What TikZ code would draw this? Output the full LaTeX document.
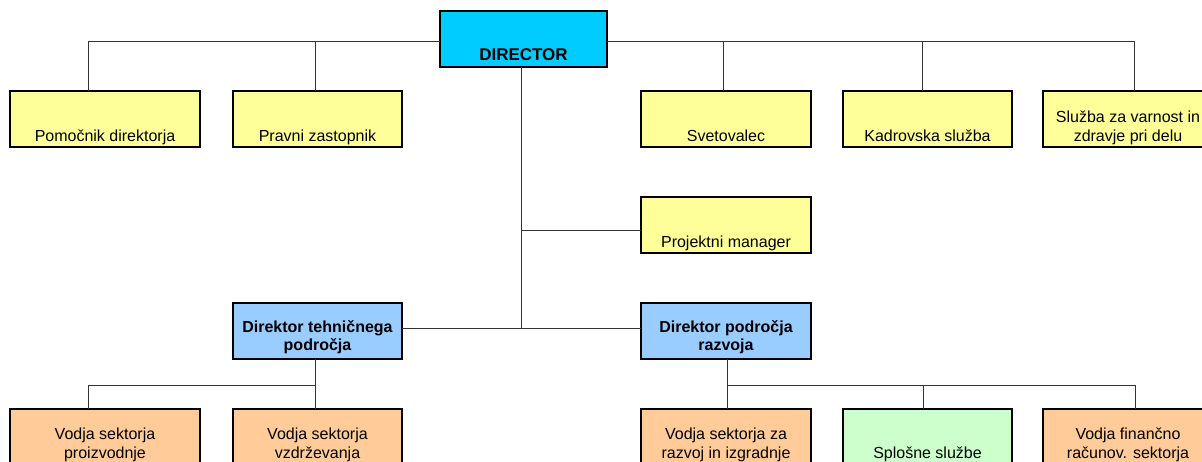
\documentclass[tikz,border=0pt]{standalone}
\usepackage{fontspec}
\setmainfont{Liberation Sans}
\definecolor{dircyan}{HTML}{00CCFF}
\definecolor{boxyellow}{HTML}{FFFF99}
\definecolor{boxblue}{HTML}{99CCFF}
\definecolor{boxorange}{HTML}{FFCC99}
\definecolor{boxgreen}{HTML}{CCFFCC}
\definecolor{linegray}{HTML}{333333}
\tikzset{
  box/.style={draw=black, line width=1.6pt, minimum height=56pt, inner sep=0pt, outer sep=0pt, anchor=north west},
  yel/.style={box, fill=boxyellow},
  blu/.style={box, fill=boxblue},
  ora/.style={box, fill=boxorange},
  gre/.style={box, fill=boxgreen},
  txt/.style={font=\fontsize{16}{19}\selectfont, align=center, inner sep=0pt, text depth=0pt, anchor=south},
  btxt/.style={txt, font=\fontsize{16}{18.5}\selectfont\bfseries},
  conn/.style={draw=linegray, line width=1pt}
}
\begin{document}
\begin{tikzpicture}[x=1pt, y=-1pt]
\useasboundingbox (0,0) rectangle (1202,461);
\clip (0,0) rectangle (1202,461);
% boxes
\node[box, fill=dircyan, minimum width=167pt] (dir) at (440,11) {};
\node[yel, minimum width=190pt] (pom) at (10,91) {};
\node[yel, minimum width=169pt] (prav) at (233,91) {};
\node[yel, minimum width=170pt] (svet) at (641,91) {};
\node[yel, minimum width=169pt] (kadr) at (843,91) {};
\node[yel, minimum width=170pt] (sluz) at (1043,91) {};
\node[yel, minimum width=170pt] (proj) at (641,197) {};
\node[blu, minimum width=169pt] (teh) at (233,303) {};
\node[blu, minimum width=170pt] (razv) at (641,303) {};
\node[ora, minimum width=190pt] (proiz) at (10,409) {};
\node[ora, minimum width=169pt] (vzdr) at (233,409) {};
\node[ora, minimum width=170pt] (izgr) at (641,409) {};
\node[gre, minimum width=169pt] (splo) at (843,409) {};
\node[ora, minimum width=170pt] (fin) at (1043,409) {};
% texts
\node[btxt, font=\fontsize{17}{20}\selectfont\bfseries] (tdir) at ([yshift=6pt]dir.south) {DIRECTOR};
\node[txt] (tpom) at ([yshift=5pt]pom.south) {Pomočnik direktorja};
\node[txt] (tprav) at ([yshift=5pt]prav.south) {Pravni zastopnik};
\node[txt] (tsvet) at ([yshift=5pt]svet.south) {Svetovalec};
\node[txt] (tkadr) at ([yshift=5pt]kadr.south) {Kadrovska služba};
\node[txt] (tsluz) at ([yshift=5pt]sluz.south) {Služba za varnost in\\zdravje pri delu};
\node[txt] (tproj) at ([yshift=5pt]proj.south) {Projektni manager};
\node[btxt] (tteh) at ([yshift=8pt]teh.south) {Direktor tehničnega\\področja};
\node[btxt] (trazv) at ([yshift=8pt]razv.south) {Direktor področja\\razvoja};
\node[txt] (tproiz) at ([yshift=6pt]proiz.south) {Vodja sektorja\\proizvodnje};
\node[txt] (tvzdr) at ([yshift=6pt]vzdr.south) {Vodja sektorja\\vzdrževanja};
\node[txt] (tizgr) at ([yshift=6pt]izgr.south) {Vodja sektorja za\\razvoj in izgradnje};
\node[txt] (tsplo) at ([yshift=6pt]splo.south) {Splošne službe};
\node[txt] (tfin) at ([yshift=6pt]fin.south) {Vodja finančno\\računov. sektorja};
% junctions
\coordinate (dl) at (440,41);
\coordinate (dr) at (607,41);
\coordinate (trunk) at (521,67);
\coordinate (tj) at (521,328);
\coordinate (pj) at (521,230);
\coordinate (tb) at (315,359);
\coordinate (tbj) at (315,385);
\coordinate (rb) at (727,359);
\coordinate (rbj) at (727,385);
% connectors
\draw[conn] (dl) -| ([xshift=-17pt]pom.north);
\draw[conn] (dl) -| ([xshift=-2.5pt]prav.north);
\draw[conn] (dr) -| ([xshift=-3pt]svet.north);
\draw[conn] (dr) -| ([xshift=-5.5pt]kadr.north);
\draw[conn] (dr) -| ([xshift=6pt]sluz.north);
\draw[conn] (trunk) -- (tj);
\draw[conn] (pj) -- (proj.west |- pj);
\draw[conn] (teh.east |- tj) -- (razv.west |- tj);
\draw[conn] (tb) -- (tbj);
\draw[conn] (tbj) -| ([xshift=-17pt]proiz.north);
\draw[conn] (tbj) -- ([xshift=-2.5pt]vzdr.north);
\draw[conn] (rb) -- ([xshift=1pt]izgr.north);
\draw[conn] (rbj) -| ([xshift=-4.5pt]splo.north);
\draw[conn] (rbj) -| ([xshift=7pt]fin.north);
\end{tikzpicture}
\end{document}
